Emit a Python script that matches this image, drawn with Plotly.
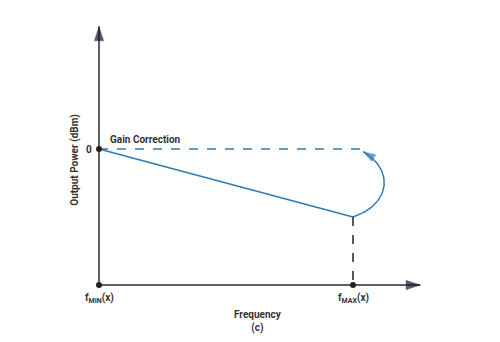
import numpy as np
import plotly.graph_objects as go

# Normalised frequency span and output-power levels
f_min, f_max = 0.0, 1.0
p_ref = 0.0          # gain-corrected level (0 dBm)
p_droop = -1.0       # uncorrected power at f_max
x_axis_end, y_axis_top, y_axis_bottom = 1.265, 1.8, -2.0

# Gain-correction curve (cubic Bezier control points)
corr_ctrl_x = [1.0, 1.146, 1.165, 1.04]
corr_ctrl_y = [-1.0, -0.82, -0.31, -0.04]
dash_end = 1.03

tick_labels = ["f<sub>MIN</sub>(x)", "f<sub>MAX</sub>(x)"]

BLUE = "#2f7bb6"
AXIS = "#5f5f5f"
HEAD = "#14142a"
TXT = "#333333"
FONT = "Roboto"

t = np.linspace(0, 1, 60)
b = np.array([(1 - t) ** 3, 3 * (1 - t) ** 2 * t, 3 * (1 - t) * t ** 2, t ** 3])
cx = np.dot(corr_ctrl_x, b)
cy = np.dot(corr_ctrl_y, b)

fig = go.Figure()


def head(xs, ys, color, size):
    """Arrowhead marker at the last point, oriented along the final segment."""
    fig.add_trace(go.Scatter(
        x=list(xs[-2:]), y=list(ys[-2:]), mode="markers",
        marker=dict(symbol="arrow", angleref="previous", size=[0, size], color=color,
                    line=dict(width=0.5, color=color)),
        hoverinfo="skip"))


# axes
fig.add_trace(go.Scatter(x=[f_min, f_min], y=[y_axis_bottom, y_axis_top], mode="lines",
                         line=dict(color=AXIS, width=2), hoverinfo="skip"))
fig.add_trace(go.Scatter(x=[f_min, x_axis_end], y=[y_axis_bottom, y_axis_bottom], mode="lines",
                         line=dict(color=AXIS, width=2), hoverinfo="skip"))
head([f_min, f_min], [y_axis_bottom, y_axis_top], HEAD, 15)
head([f_min, x_axis_end], [y_axis_bottom, y_axis_bottom], HEAD, 15)

# droop line
fig.add_trace(go.Scatter(x=[f_min, f_max], y=[p_ref, p_droop], mode="lines",
                         line=dict(color=BLUE, width=1.5), hoverinfo="skip"))
# corrected target level
fig.add_trace(go.Scatter(x=[f_min, dash_end], y=[p_ref, p_ref], mode="lines",
                         line=dict(color=BLUE, width=1.5, dash="dash"), hoverinfo="skip"))
# f_max drop line
fig.add_trace(go.Scatter(x=[f_max, f_max], y=[p_droop, y_axis_bottom], mode="lines",
                         line=dict(color="#222222", width=1.5, dash="dash"), hoverinfo="skip"))
# correction curve
fig.add_trace(go.Scatter(x=cx, y=cy, mode="lines",
                         line=dict(color=BLUE, width=1.5), hoverinfo="skip"))
head(cx, cy, BLUE, 13)

# markers
fig.add_trace(go.Scatter(x=[f_min, f_min, f_max], y=[p_ref, y_axis_bottom, y_axis_bottom], mode="markers",
                         marker=dict(color="#222222", size=6), hoverinfo="skip"))

labels = [
    dict(x=f_min, y=p_ref, text="0", xanchor="right", xshift=-5),
    dict(x=f_min, y=p_ref, text="Gain Correction", xanchor="left", yanchor="bottom",
         xshift=9, yshift=2),
    dict(x=f_min, y=y_axis_bottom, text=tick_labels[0], yanchor="top", yshift=-5),
    dict(x=f_max, y=y_axis_bottom, text=tick_labels[1], yanchor="top", yshift=-5),
    dict(x=0.627, y=y_axis_bottom, text="Frequency<br>(c)", yanchor="top", yshift=-22),
    dict(x=-0.095, y=-0.16, text="Output Power (dBm)", textangle=-90),
]
for a in labels:
    a.update(xref="x", yref="y", showarrow=False, font=dict(size=10))

fig.update_layout(annotations=labels)

fig.update_layout(
    width=500, height=342, margin=dict(l=0, r=0, t=0, b=0),
    paper_bgcolor="white", plot_bgcolor="white", showlegend=False,
    font=dict(family=FONT, color=TXT, weight="bold"),
    xaxis=dict(range=[-0.3898, 1.5787], visible=False, fixedrange=True),
    yaxis=dict(range=[-2.838, 2.191], visible=False, fixedrange=True),
)

fig.write_html("out.html")
